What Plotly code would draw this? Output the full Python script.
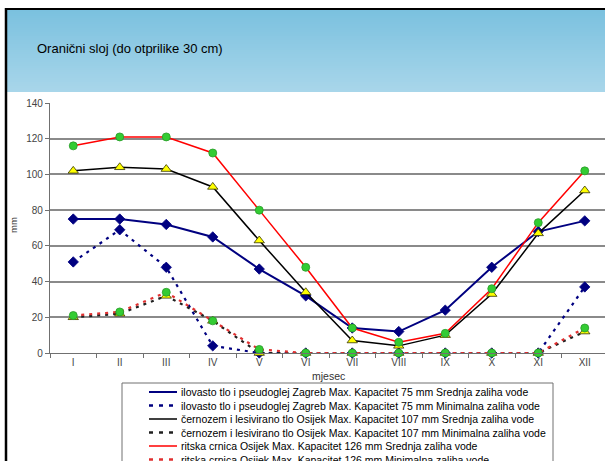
import plotly.graph_objects as go

months = ["I", "II", "III", "IV", "V", "VI", "VII", "VIII", "IX", "X", "XI", "XII"]

zg_srednja = [75, 75, 72, 65, 47, 32, 14, 12, 24, 48, 68, 74]
zg_minimalna = [51, 69, 48, 4, 0, 0, 0, 0, 0, 0, 0, 37]
os107_srednja = [102, 104, 103, 93, 63, 34, 7, 4, 10, 33, 67, 91]
os107_minimalna = [20, 22, 32, 18, 0, 0, 0, 0, 0, 0, 0, 12]
os126_srednja = [116, 121, 121, 112, 80, 48, 14, 6, 11, 36, 73, 102]
os126_minimalna = [21, 23, 34, 18, 2, 0, 0, 0, 0, 0, 0, 14]

names = [
    "ilovasto tlo i pseudoglej Zagreb Max. Kapacitet 75 mm Srednja zaliha vode",
    "ilovasto tlo i pseudoglej Zagreb Max. Kapacitet 75 mm Minimalna zaliha vode",
    "černozem i lesivirano tlo Osijek Max. Kapacitet 107 mm Srednja zaliha vode",
    "černozem i lesivirano tlo Osijek Max. Kapacitet 107 mm Minimalna zaliha vode",
    "ritska crnica Osijek Max. Kapacitet 126 mm Srednja zaliha vode",
    "ritska crnica Osijek Max. Kapacitet 126 mm Minimalna zaliha vode",
]
title_text = "Oranični sloj (do otprilike 30 cm)"

W, H = 605, 461
L, R, T, B = 50, 605, 103, 353
STEP = 46.5
DOT = "3px,5px"

styles = [
    dict(lc="#000080", lw=2, dash="solid", sym="diamond", ms=8, mc="#000080", ml="#000080"),
    dict(lc="#000080", lw=2.2, dash=DOT, sym="diamond", ms=8, mc="#000080", ml="#000080"),
    dict(lc="#000000", lw=1.5, dash="solid", sym="triangle-up", ms=9, mc="#FFFF00", ml="#333300"),
    dict(lc="#202020", lw=2.2, dash=DOT, sym="triangle-up", ms=9, mc="#FFFF00", ml="#333300"),
    dict(lc="#FF0000", lw=1.5, dash="solid", sym="circle", ms=8, mc="#33CC33", ml="#2a9a2a"),
    dict(lc="#E03030", lw=2.2, dash=DOT, sym="circle", ms=8, mc="#33CC33", ml="#2a9a2a"),
]
series = [zg_srednja, zg_minimalna, os107_srednja, os107_minimalna, os126_srednja, os126_minimalna]

def px(x):
    return (x - L) / (R - L)

def py(y):
    return (B - y) / (B - T)

fig = go.Figure()
order = [1, 3, 5, 0, 2, 4]
for i in order:
    s = styles[i]
    fig.add_trace(go.Scatter(
        x=months, y=series[i], mode="lines+markers", name=names[i],
        line=dict(color=s["lc"], width=s["lw"], dash=s["dash"]),
        marker=dict(symbol=s["sym"], size=s["ms"], color=s["mc"], line=dict(color=s["ml"], width=0.8)),
        cliponaxis=False, showlegend=False,
    ))

shapes = []
# header gradient
c0 = (123, 193, 223)
c1 = (168, 214, 234)
n = 41
top, bot = 10, 92
for k in range(n):
    f = k / (n - 1)
    col = "rgb(%d,%d,%d)" % tuple(round(c0[j] + (c1[j] - c0[j]) * f) for j in range(3))
    y0 = top + (bot - top) * k / n
    y1 = top + (bot - top) * (k + 1) / n + 0.6
    shapes.append(dict(type="rect", xref="paper", yref="paper", x0=px(6), x1=px(W),
                       y0=py(y0), y1=py(min(y1, bot)), fillcolor=col, line=dict(width=0), layer="above"))
# borders
shapes.append(dict(type="line", xref="paper", yref="paper", x0=px(5), x1=px(W), y0=py(9), y1=py(9),
                   line=dict(color="black", width=2.2)))
shapes.append(dict(type="line", xref="paper", yref="paper", x0=px(6), x1=px(6), y0=py(8), y1=py(470),
                   line=dict(color="black", width=2.5)))

# legend box
LX0, LX1, LY0 = 122, 553, 383
shapes.append(dict(type="rect", xref="paper", yref="paper", x0=px(LX0), x1=px(LX1), y0=py(LY0), y1=py(480),
                   line=dict(color="#707070", width=1), fillcolor="white"))
ys = [392, 405.5, 419, 432.5, 446, 459.5]
annotations = []
for i, s in enumerate(styles):
    shapes.append(dict(type="line", xref="paper", yref="paper", x0=px(149), x1=px(177), y0=py(ys[i]), y1=py(ys[i]),
                       line=dict(color=s["lc"], width=s["lw"] if s["dash"] == "solid" else 2.5,
                                 dash="solid" if s["dash"] == "solid" else "4px,6px")))
    annotations.append(dict(xref="paper", yref="paper", x=px(179), y=py(ys[i]), text=names[i], showarrow=False,
                            xanchor="left", yanchor="middle", font=dict(family="Liberation Sans", size=10.5, color="black")))

# legend markers on a pixel-mapped overlay axis
for i, s in enumerate(styles):
    fig.add_trace(go.Scatter(
        x=[163], y=[ys[i]], mode="markers", xaxis="x2", yaxis="y2",
        marker=dict(symbol=s["sym"], size=s["ms"] - 1, color=s["mc"], line=dict(color=s["ml"], width=0.8)),
        cliponaxis=False, showlegend=False, hoverinfo="skip",
    ))

annotations.append(dict(xref="paper", yref="paper", x=px(35), y=py(48), text=title_text, showarrow=False,
                        xanchor="left", yanchor="middle", font=dict(family="Liberation Sans", size=13, color="black")))
annotations.append(dict(xref="paper", yref="paper", x=px(13), y=py(225), text="mm", showarrow=False, textangle=-90,
                        xanchor="center", yanchor="middle", font=dict(family="Liberation Sans", size=9.5, color="#333")))
annotations.append(dict(xref="paper", yref="paper", x=px(328), y=py(376), text="mjesec", showarrow=False,
                        xanchor="center", yanchor="middle", font=dict(family="Liberation Sans", size=10.5, color="#333")))

fig.update_layout(
    width=W, height=H,
    margin=dict(l=L, r=W - R, t=T, b=H - B, pad=0),
    paper_bgcolor="white", plot_bgcolor="white",
    shapes=shapes, annotations=annotations,
    xaxis=dict(type="category", categoryorder="array", categoryarray=months,
               range=[-0.5, (R - L) / STEP - 0.5], showgrid=False, zeroline=False,
               showline=True, linecolor="#707070", linewidth=1.2,
               ticks="outside", tickson="boundaries", ticklen=4, tickcolor="#707070",
               tickfont=dict(family="Liberation Sans", size=10, color="#444")),
    yaxis=dict(range=[0, 140], dtick=20, showgrid=True, gridcolor="#8a8a8a", gridwidth=1.6,
               zeroline=False, showline=True, linecolor="#707070", linewidth=1.2,
               ticks="outside", ticklen=4, tickcolor="#707070",
               tickfont=dict(family="Liberation Sans", size=10, color="#444")),
    xaxis2=dict(overlaying="x", anchor="y2", range=[L, R], visible=False),
    yaxis2=dict(overlaying="y", anchor="x2", range=[B, T], visible=False),
    showlegend=False,
)

fig.write_html("out.html", config={"displayModeBar": False},
               post_script="document.documentElement.style.overflow='hidden';"
                           "document.body.style.margin='0';document.body.style.overflow='hidden';")
